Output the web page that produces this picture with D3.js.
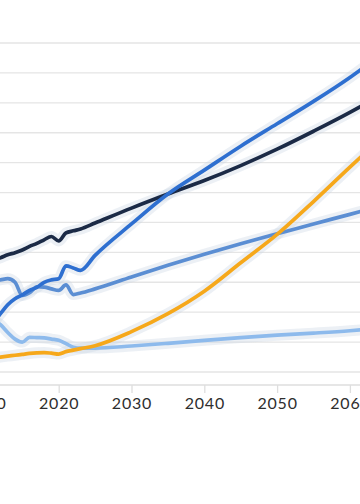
<!DOCTYPE html>
<html>
<head>
<meta charset="utf-8">
<script src="https://cdn.jsdelivr.net/npm/d3@7"></script>
<style>
  html, body { margin: 0; padding: 0; background: #ffffff; }
  svg { display: block; overflow: hidden; }
</style>
</head>
<body>
<div id="chart"></div>
<script>
// ---- data ----
const years = [2011, 2012, 2013, 2014, 2015, 2016, 2017, 2018, 2019, 2020, 2021, 2022, 2023,
               2025, 2030, 2035, 2040, 2045, 2050, 2055, 2060, 2062];

const navy       = [37.5, 38.2, 39.2, 39.9, 40.8, 42.0, 43.0, 44.2, 45.3, 43.8, 46.5, 47.2, 47.8,
                    49.8, 54.8, 59.5, 64.0, 69.0, 74.5, 80.5, 86.8, 89.5];
const brightBlue = [16.5, 19.5, 22.5, 24.5, 25.8, 27.3, 28.3, 30.0, 30.8, 31.2, 35.5, 34.8, 34.0,
                    39.0, 49.5, 59.5, 67.5, 75.5, 83.0, 90.5, 98.5, 102.0];
const mediumBlue = [30.5, 30.8, 31.2, 30.0, 25.6, 26.5, 28.5, 28.4, 27.8, 27.3, 29.1, 25.9, 26.4,
                    27.8, 31.8, 35.7, 39.4, 42.9, 46.2, 49.5, 52.7, 54.0];
const lightBlue  = [17.5, 15.8, 13.2, 11.0, 10.0, 11.6, 11.5, 11.4, 11.0, 10.6, 9.5, 8.3, 8.0,
                    8.0, 8.7, 9.6, 10.6, 11.5, 12.3, 13.0, 13.8, 14.2];
const orange     = [4.7, 5.0, 5.3, 5.6, 5.9, 6.2, 6.4, 6.5, 6.3, 6.0, 6.8, 7.3, 7.8,
                    8.8, 13.5, 19.5, 27.0, 36.5, 46.0, 57.0, 68.5, 73.0];

const xTicks = [2010, 2020, 2030, 2040, 2050, 2060];
const yGrid  = [0, 10, 20, 30, 40, 50, 60, 70, 80, 90, 100, 110];

const seriesNames  = ["lightBlue", "mediumBlue", "orange", "navy", "brightBlue"];
const seriesValues = [lightBlue, mediumBlue, orange, navy, brightBlue];
const seriesColors = ["#8dbaec", "#5b8ed3", "#f6a81b", "#1b2a46", "#2e6fd0"];

// ---- layout ----
const W = 360, H = 504;
const svg = d3.select("#chart").append("svg")
  .attr("width", W).attr("height", H);

const x = d3.scaleLinear().domain([2010, 2060]).range([-14.1, 349.9]);
const y = d3.scaleLinear().domain([0, 110]).range([372, 43]);

// grid
svg.append("g").selectAll("line").data(yGrid).join("line")
  .attr("x1", 0).attr("x2", W)
  .attr("y1", d => y(d)).attr("y2", d => y(d))
  .attr("stroke", "#e5e5e5").attr("stroke-width", 1.3);

// x axis
const axisY = 385;
const xAxis = d3.axisBottom(x).tickValues(xTicks).tickFormat(d3.format("d"))
  .tickSizeInner(8).tickSizeOuter(0).tickPadding(5);
const gx = svg.append("g").attr("transform", `translate(0,${axisY})`).call(xAxis);
gx.select(".domain").remove();
gx.append("line").attr("x1", 0).attr("x2", W).attr("y1", 0).attr("y2", 0)
  .attr("stroke", "#dedede").attr("stroke-width", 1.3);
gx.selectAll(".tick line").attr("stroke", "#dedede").attr("stroke-width", 1.3);
gx.selectAll(".tick text")
  .attr("fill", "#2e2e2e")
  .style("font-family", "Lato, 'Open Sans', sans-serif")
  .style("font-size", "16px")
  .style("letter-spacing", "0.8px");

// lines
const line = d3.line()
  .x((d, i) => x(years[i]))
  .y(d => y(d))
  .curve(d3.curveMonotoneX);

const g = svg.append("g");
seriesValues.forEach((vals, k) => {
  g.append("path").datum(vals)
    .attr("class", "halo " + seriesNames[k])
    .attr("d", line)
    .attr("fill", "none")
    .attr("stroke", "#c9d3e2")
    .attr("stroke-opacity", 0.35)
    .attr("stroke-width", 11)
    .attr("stroke-linejoin", "round")
    .attr("stroke-linecap", "round");
});
seriesValues.forEach((vals, k) => {
  g.append("path").datum(vals)
    .attr("class", "series " + seriesNames[k])
    .attr("d", line)
    .attr("fill", "none")
    .attr("stroke", seriesColors[k])
    .attr("stroke-width", 3.7)
    .attr("stroke-linejoin", "round")
    .attr("stroke-linecap", "round");
});
</script>
</body>
</html>
